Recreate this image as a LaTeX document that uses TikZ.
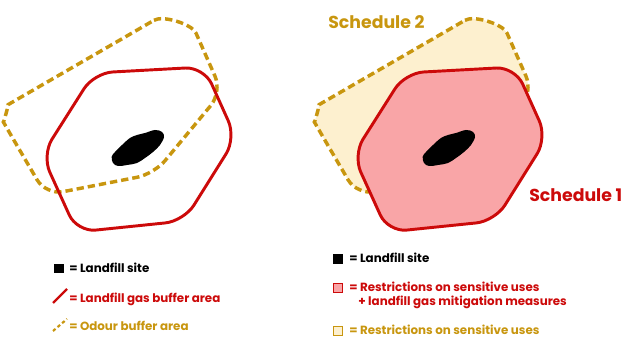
\documentclass[tikz,border=0pt]{standalone}
\usepackage{fontspec}
\setmainfont{Poppins}
\usepackage{tikz}
\definecolor{gasred}{HTML}{CC0A0A}
\definecolor{odourgold}{HTML}{C8960F}
\definecolor{gaspink}{HTML}{F9A5A7}
\definecolor{odourcream}{HTML}{FDF0CF}

\begin{document}
\begin{tikzpicture}[
  x=0.75pt, y=-0.75pt,
  odour/.style={draw=odourgold, line width=2.6pt, dash pattern=on 5.5pt off 3pt,
                rounded corners=13pt},
  gasbuf/.style={draw=gasred, line width=2.2pt, rounded corners=14pt},
  site/.style={fill=black},
  key/.style={minimum size=6.8pt, inner sep=0pt, line width=0.5pt},
  lbl/.style={anchor=base west, inner sep=0pt,
              font=\bfseries\fontsize{8.9}{10}\selectfont},
  sched/.style={anchor=base west, inner sep=0pt,
                font=\bfseries\fontsize{13}{15}\selectfont}
]
\useasboundingbox (0,0) rectangle (622,338);

% --- left: the two buffers around the site ---
\path[odour] (139,29) .. controls (163,15) and (192,24) .. (203,49) -- (222,92)
  -- (154,174) -- (46,195) -- (12,137) .. controls (3.75,122.7) and (8.7,104.3)
  .. (23,96) -- cycle;
\draw[gasbuf] (94,73) -- (204,67) -- (236,138) -- (184,221) -- (77,232) -- (42,155) -- cycle;
\fill[site] plot[smooth cycle, tension=0.6] coordinates {(111.7,156.7) (113,163) (118,166)
  (127,165) (137,163) (145,158) (153,152) (160,145) (164,137) (162,132) (155,130)
  (145,133) (137,135) (130,138) (122,145) (115,152)};

% --- right: the two schedules ---
\begin{scope}[shift={(311,0)}]
\path[odour, fill=odourcream] (139,29) .. controls (163,15) and (192,24) .. (203,49) -- (222,92)
  -- (154,174) -- (46,195) -- (12,137) .. controls (3.75,122.7) and (8.7,104.3)
  .. (23,96) -- cycle;
\draw[gasbuf, fill=gaspink] (94,73) -- (204,67) -- (236,138) -- (184,221) -- (77,232) -- (42,155) -- cycle;
\fill[site] plot[smooth cycle, tension=0.6] coordinates {(111.7,156.7) (113,163) (118,166)
  (127,165) (137,163) (145,158) (153,152) (160,145) (164,137) (162,132) (155,130)
  (145,133) (137,135) (130,138) (122,145) (115,152)};
\end{scope}

\node[sched, odourgold] (sch2) at (328,28.3) {Schedule 2};
\node[sched, gasred] (sch1) at (529,201.7) {Schedule 1};

% --- left legend ---
\node[key, fill=black] (lsite) at (59,268.5) {};
\node[lbl] (lsitetxt) at (69,272.3) {= Landfill site};
\coordinate (lg1) at (53,303);
\coordinate (lg2) at (67,289);
\draw[gasred, line width=1.6pt] (lg1) -- (lg2);
\node[lbl, gasred] (lgastxt) at (69,302.3) {= Landfill gas buffer area};
\coordinate (lo1) at (53,331);
\coordinate (lo2) at (67,319);
\draw[odourgold, line width=1.6pt, dash pattern=on 2.5pt off 2pt] (lo1) -- (lo2);
\node[lbl, odourgold] (lodtxt) at (69,331) {= Odour buffer area};

% --- right legend ---
\node[key, fill=black] (rsite) at (338,259) {};
\node[lbl] (rsitetxt) at (349,262.3) {= Landfill site};
\node[key, fill=gaspink, draw=gasred] (rpink) at (338,287.5) {};
\node[lbl, gasred] (rpinktxt) at (349,291.7) {= Restrictions on sensitive uses};
\node[lbl, gasred] (rpinktxt2) at (358,306) {+ landfill gas mitigation measures};
\node[key, fill=odourcream, draw=odourgold] (rcream) at (338,331) {};
\node[lbl, odourgold] (rcreamtxt) at (349,334.5) {= Restrictions on sensitive uses};
\end{tikzpicture}
\end{document}
